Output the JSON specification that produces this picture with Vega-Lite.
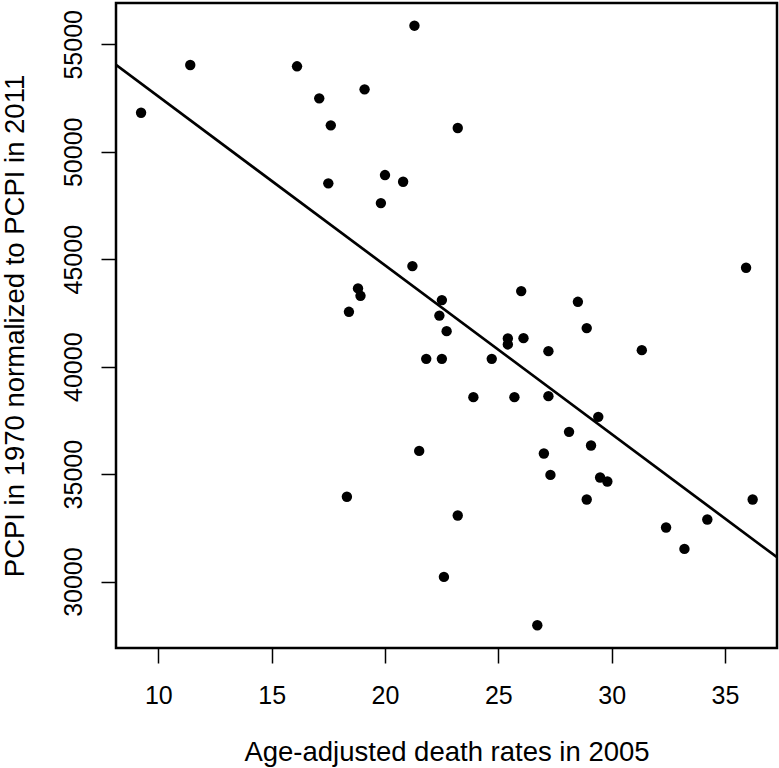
{
  "$schema": "https://vega.github.io/schema/vega-lite/v6.json",
  "width": 661,
  "height": 645,
  "autosize": {"type": "none"},
  "padding": {"left": 116, "top": 3, "right": 2, "bottom": 120},
  "background": "white",
  "config": {
    "view": {"stroke": "black", "strokeWidth": 2.5},
    "font": "Liberation Sans"
  },
  "data": {
    "values": [
      {"death_rate": 9.24, "pcpi": 51816},
      {"death_rate": 11.41, "pcpi": 54036},
      {"death_rate": 16.12, "pcpi": 53976},
      {"death_rate": 17.10, "pcpi": 52486},
      {"death_rate": 17.61, "pcpi": 51230},
      {"death_rate": 19.10, "pcpi": 52905},
      {"death_rate": 21.30, "pcpi": 55866},
      {"death_rate": 23.21, "pcpi": 51104},
      {"death_rate": 17.50, "pcpi": 48530},
      {"death_rate": 20.00, "pcpi": 48916},
      {"death_rate": 20.80, "pcpi": 48604},
      {"death_rate": 19.82, "pcpi": 47612},
      {"death_rate": 21.21, "pcpi": 44680},
      {"death_rate": 18.81, "pcpi": 43642},
      {"death_rate": 18.92, "pcpi": 43297},
      {"death_rate": 18.41, "pcpi": 42553},
      {"death_rate": 22.51, "pcpi": 43097},
      {"death_rate": 22.40, "pcpi": 42376},
      {"death_rate": 26.01, "pcpi": 43516},
      {"death_rate": 22.72, "pcpi": 41654},
      {"death_rate": 35.93, "pcpi": 44601},
      {"death_rate": 28.51, "pcpi": 43018},
      {"death_rate": 28.90, "pcpi": 41794},
      {"death_rate": 25.42, "pcpi": 41314},
      {"death_rate": 25.42, "pcpi": 41035},
      {"death_rate": 26.11, "pcpi": 41328},
      {"death_rate": 27.21, "pcpi": 40723},
      {"death_rate": 31.33, "pcpi": 40770},
      {"death_rate": 21.82, "pcpi": 40365},
      {"death_rate": 22.51, "pcpi": 40365},
      {"death_rate": 24.71, "pcpi": 40365},
      {"death_rate": 23.90, "pcpi": 38582},
      {"death_rate": 25.71, "pcpi": 38582},
      {"death_rate": 27.21, "pcpi": 38628},
      {"death_rate": 29.41, "pcpi": 37665},
      {"death_rate": 28.12, "pcpi": 36967},
      {"death_rate": 29.09, "pcpi": 36334},
      {"death_rate": 21.51, "pcpi": 36082},
      {"death_rate": 27.01, "pcpi": 35961},
      {"death_rate": 27.30, "pcpi": 34965},
      {"death_rate": 29.49, "pcpi": 34844},
      {"death_rate": 29.81, "pcpi": 34657},
      {"death_rate": 28.90, "pcpi": 33820},
      {"death_rate": 36.22, "pcpi": 33820},
      {"death_rate": 23.21, "pcpi": 33075},
      {"death_rate": 32.40, "pcpi": 32516},
      {"death_rate": 34.22, "pcpi": 32888},
      {"death_rate": 33.21, "pcpi": 31520},
      {"death_rate": 22.60, "pcpi": 30217},
      {"death_rate": 26.72, "pcpi": 27969},
      {"death_rate": 18.32, "pcpi": 33947}
    ]
  },
  "encoding": {
    "x": {
      "field": "death_rate",
      "type": "quantitative",
      "scale": {"domain": [8.134, 37.294], "nice": false, "zero": false},
      "axis": {
        "title": "Age-adjusted death rates in 2005",
        "values": [10, 15, 20, 25, 30, 35],
        "grid": false,
        "domain": false,
        "tickSize": 15,
        "tickWidth": 1.5,
        "tickColor": "black",
        "labelFontSize": 25,
        "labelColor": "black",
        "labelPadding": 40,
        "labelBaseline": "alphabetic",
        "labelFlush": false,
        "labelOverlap": false,
        "titleFontSize": 27.5,
        "titleFontWeight": "normal",
        "titleColor": "black",
        "titleBaseline": "alphabetic",
        "titleY": 112
      }
    },
    "y": {
      "field": "pcpi",
      "type": "quantitative",
      "scale": {"domain": [26910, 56922], "nice": false, "zero": false},
      "axis": {
        "title": "PCPI in 1970 normalized to PCPI in 2011",
        "values": [30000, 35000, 40000, 45000, 50000, 55000],
        "format": "d",
        "grid": false,
        "domain": false,
        "tickSize": 15,
        "tickWidth": 1.5,
        "tickColor": "black",
        "labelFontSize": 25,
        "labelColor": "black",
        "labelAngle": -90,
        "labelAlign": "center",
        "labelBaseline": "alphabetic",
        "labelPadding": 20,
        "labelFlush": false,
        "labelOverlap": false,
        "titleFontSize": 27.5,
        "titleFontWeight": "normal",
        "titleColor": "black",
        "titleAngle": -90,
        "titleAlign": "center",
        "titleBaseline": "alphabetic",
        "titleX": -93,
        "titleY": 322.5
      }
    }
  },
  "layer": [
    {"mark": {"type": "circle", "size": 108, "color": "black", "opacity": 1}},
    {
      "transform": [{"regression": "pcpi", "on": "death_rate", "extent": [8.134, 37.294]}],
      "mark": {"type": "line", "color": "black", "strokeWidth": 2.7, "clip": true}
    }
  ]
}
